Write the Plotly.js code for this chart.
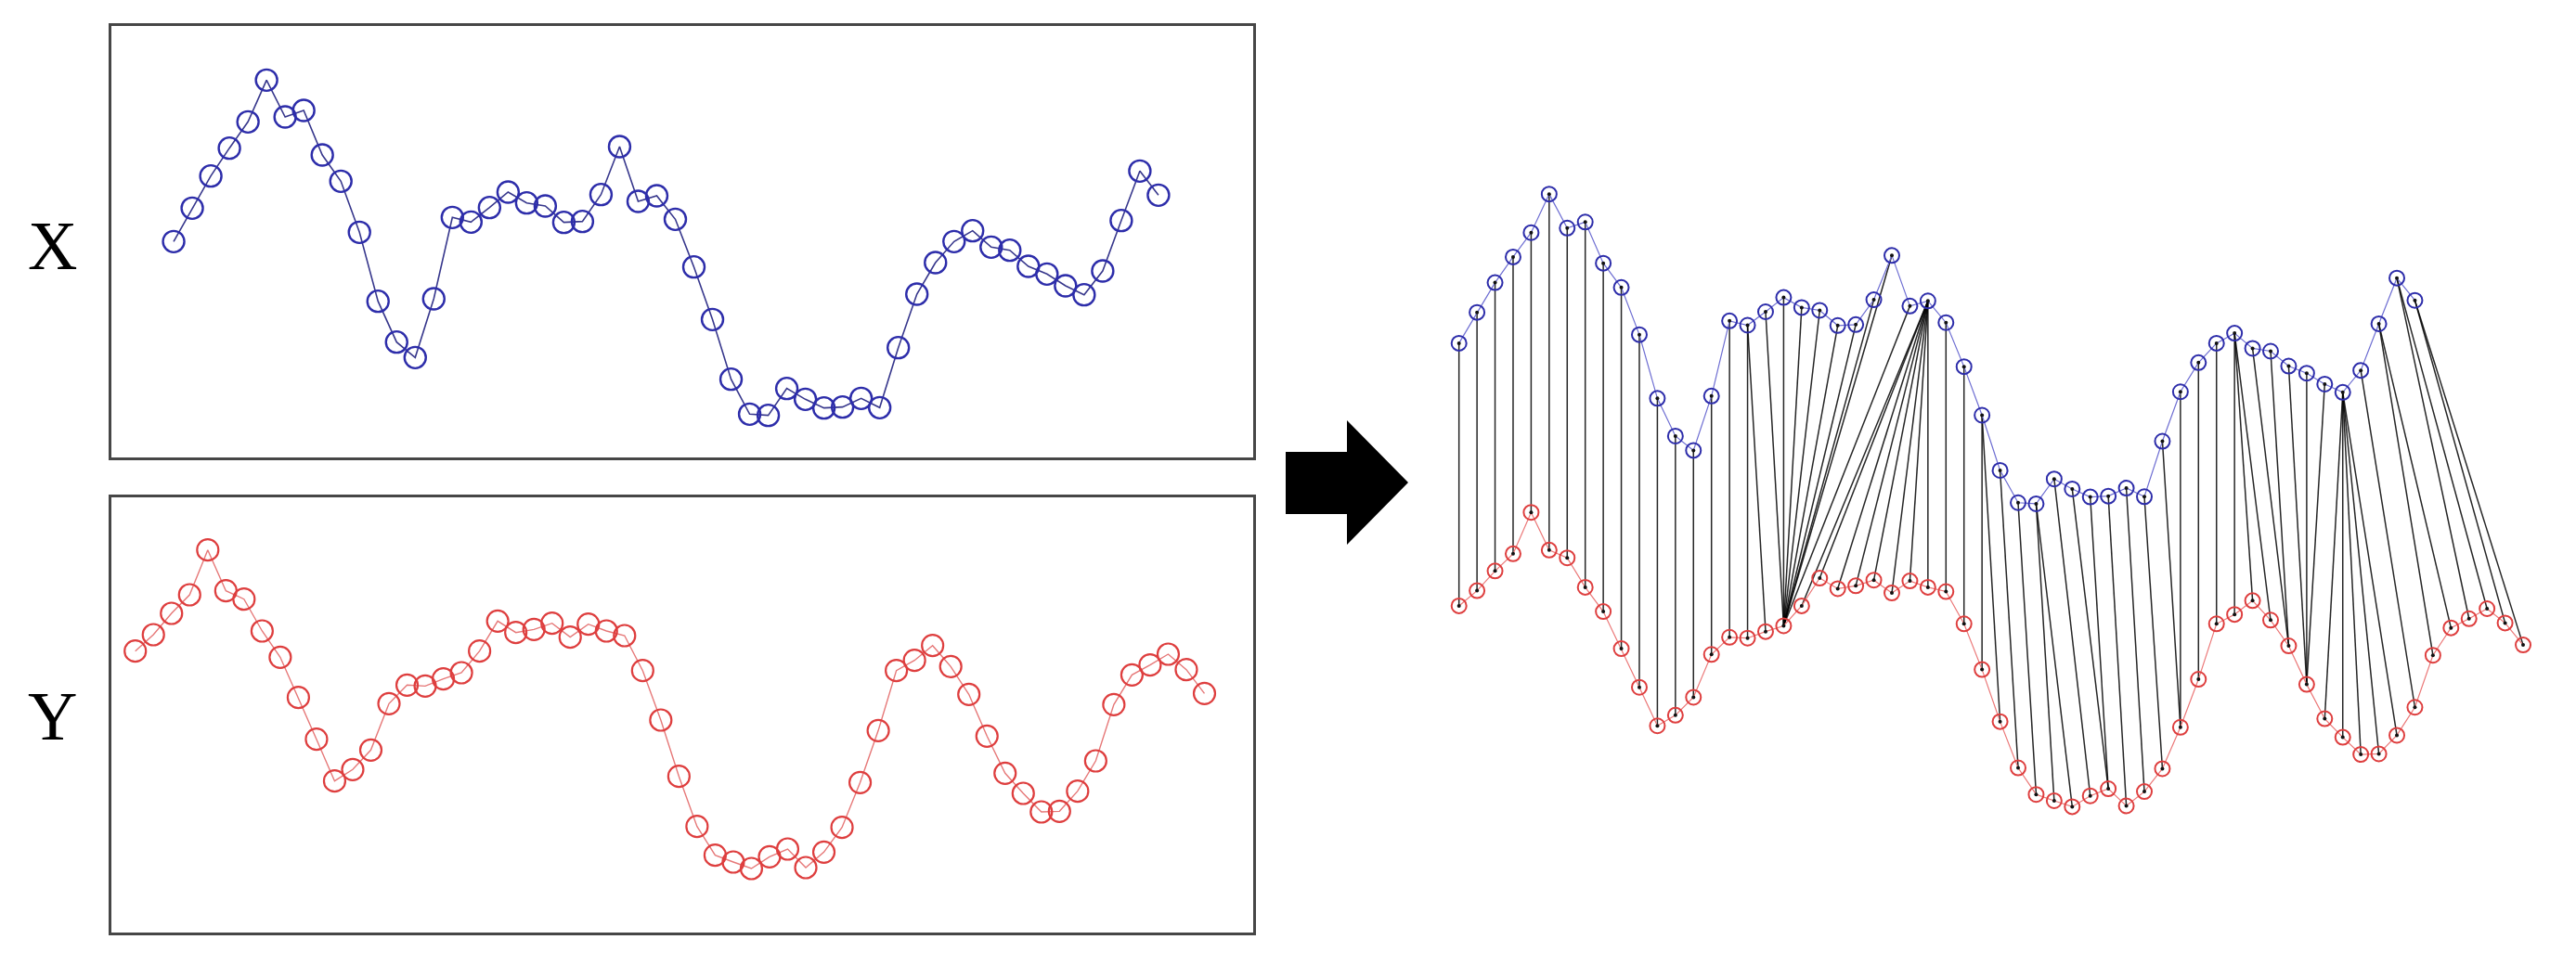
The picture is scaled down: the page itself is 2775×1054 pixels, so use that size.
<!DOCTYPE html>
<html>
<head>
<meta charset="utf-8">
<script src="https://cdn.plot.ly/plotly-3.0.1.min.js"></script>
<style>
html,body{margin:0;padding:0;background:#ffffff;}
#chart{width:2775px;height:1054px;}
</style>
</head>
<body>
<div id="chart"></div>
<script>
// ---- Data ----
const seriesX = [7.10, 8.18, 9.22, 10.12, 10.97, 12.32, 11.13, 11.34, 9.90, 9.05,
                 7.40, 5.17, 3.85, 3.35, 5.25, 7.88, 7.73, 8.20, 8.70, 8.35,
                 8.25, 7.72, 7.75, 8.62, 10.17, 8.40, 8.58, 7.82, 6.28, 4.58,
                 2.65, 1.52, 1.48, 2.35, 2.00, 1.72, 1.75, 2.03, 1.73, 3.67,
                 5.40, 6.42, 7.10, 7.45, 6.92, 6.82, 6.30, 6.05, 5.67, 5.38,
                 6.15, 7.78, 9.38, 8.60];

const seriesY = [9.25, 9.78, 10.47, 11.07, 12.52, 11.20, 10.93, 9.90, 9.05, 7.75,
                 6.40, 5.05, 5.42, 6.05, 7.55, 8.15, 8.12, 8.35, 8.55, 9.25,
                 10.22, 9.85, 9.95, 10.15, 9.70, 10.12, 9.90, 9.75, 8.62, 7.02,
                 5.20, 3.58, 2.65, 2.43, 2.22, 2.60, 2.85, 2.25, 2.75, 3.55,
                 5.00, 6.68, 8.62, 8.95, 9.43, 8.75, 7.85, 6.50, 5.30, 4.65,
                 4.05, 4.07, 4.72, 5.70, 7.52, 8.48, 8.80, 9.15, 8.65, 7.88];

// Warping path: pairs (index in X, index in Y), 1-based
const pathX = [1,2,3,4,5,6,7,8,9,10,11,12,13,14,15,16,17,17,18,
               19,20,21,22,23,24,25,26,
               27,27,27,27,27,27,27,27,
               28,29,30,30,31,32,33,33,34,35,36,37,38,39,40,41,42,43,
               44,44,44,45,46,47,48,49,50,50,50,50,50,51,52,52,53,53,54,54];
const pathY = [1,2,3,4,5,6,7,8,9,10,11,12,13,14,15,16,17,18,19,
               19,19,19,19,19,19,19,19,
               20,21,22,23,24,25,26,27,
               28,29,30,31,32,33,34,35,36,37,37,38,39,40,41,41,42,43,
               44,45,46,47,47,48,48,48,49,50,51,52,53,54,55,56,57,58,59,60];

const rowLabels = ['X', 'Y'];

// ---- Build ----
const idxX = seriesX.map((_, i) => i + 1);
const idxY = seriesY.map((_, i) => i + 1);
const OFFSET = 11.34;               // vertical separation of X above Y in the right panel
const liftedX = seriesX.map(v => v + OFFSET);

const linkX = [], linkY = [];
for (let k = 0; k < pathX.length; k++) {
  const i = pathX[k], j = pathY[k];
  linkX.push(i, j, null);
  linkY.push(liftedX[i - 1], seriesY[j - 1], null);
}

const BLUE = 'rgb(45,45,170)';
const RED = 'rgb(222,62,62)';

const traces = [
  { // top-left X
    x: idxX, y: seriesX, xaxis: 'x', yaxis: 'y', type: 'scatter', mode: 'lines+markers',
    line: {color: 'rgb(55,55,140)', width: 1.6},
    marker: {symbol: 'circle-open', size: 23, color: BLUE, line: {width: 2.4, color: BLUE}},
    cliponaxis: false
  },
  { // bottom-left Y
    x: idxY, y: seriesY, xaxis: 'x2', yaxis: 'y2', type: 'scatter', mode: 'lines+markers',
    line: {color: 'rgb(230,120,120)', width: 1.4},
    marker: {symbol: 'circle-open', size: 23, color: RED, line: {width: 2.2, color: RED}},
    cliponaxis: false
  },
  { // warping links
    x: linkX, y: linkY, xaxis: 'x3', yaxis: 'y3', type: 'scatter', mode: 'lines',
    line: {color: 'rgba(0,0,0,0.85)', width: 1.5}, connectgaps: false
  },
  { // right X
    x: idxX, y: liftedX, xaxis: 'x3', yaxis: 'y3', type: 'scatter', mode: 'lines+markers',
    line: {color: 'rgb(110,110,210)', width: 1.2},
    marker: {symbol: 'circle-open', size: 16, color: BLUE, line: {width: 2, color: BLUE}}
  },
  { // right Y
    x: idxY, y: seriesY, xaxis: 'x3', yaxis: 'y3', type: 'scatter', mode: 'lines+markers',
    line: {color: 'rgb(235,120,120)', width: 1.2},
    marker: {symbol: 'circle-open', size: 16, color: RED, line: {width: 2, color: RED}}
  },
  { // centre dots X
    x: idxX, y: liftedX, xaxis: 'x3', yaxis: 'y3', type: 'scatter', mode: 'markers',
    marker: {symbol: 'circle', size: 4, color: '#111'}
  },
  { // centre dots Y
    x: idxY, y: seriesY, xaxis: 'x3', yaxis: 'y3', type: 'scatter', mode: 'markers',
    marker: {symbol: 'circle', size: 4, color: '#111'}
  }
];

const boxAxis = {showgrid: false, zeroline: false, showticklabels: false, ticks: '',
                 showline: true, mirror: true, linecolor: 'rgb(70,70,70)', linewidth: 3};
const bareAxis = {showgrid: false, zeroline: false, showticklabels: false, ticks: '', showline: false};

const W = 2775, H = 1054;
const layout = {
  width: W, height: H,
  margin: {l: 0, r: 0, t: 0, b: 0},
  paper_bgcolor: '#ffffff', plot_bgcolor: 'rgba(0,0,0,0)',
  showlegend: false, hovermode: false,
  xaxis:  Object.assign({}, boxAxis, {domain: [120 / W, 1350 / W], range: [-2.35, 59.1], anchor: 'y'}),
  yaxis:  Object.assign({}, boxAxis, {domain: [1 - 493 / H, 1 - 28 / H], range: [0.12, 14.07], anchor: 'x'}),
  xaxis2: Object.assign({}, boxAxis, {domain: [120 / W, 1350 / W], range: [-0.317, 62.69], anchor: 'y2'}),
  yaxis2: Object.assign({}, boxAxis, {domain: [1 - 1005 / H, 1 - 536 / H], range: [0.15, 14.22], anchor: 'x2'}),
  xaxis3: Object.assign({}, bareAxis, {domain: [1540 / W, 2760 / W], range: [-0.631, 62.16], anchor: 'y3'}),
  yaxis3: Object.assign({}, bareAxis, {domain: [1 - 1000 / H, 1 - 150 / H], range: [-2.02, 25.58], anchor: 'x3'}),
  annotations: [
    {text: rowLabels[0], xref: 'paper', yref: 'paper', x: 57 / W, y: 1 - 265 / H,
     xanchor: 'center', yanchor: 'middle', showarrow: false,
     font: {family: 'Liberation Serif, Times New Roman, serif', size: 74, color: '#000'}},
    {text: rowLabels[1], xref: 'paper', yref: 'paper', x: 57 / W, y: 1 - 772 / H,
     xanchor: 'center', yanchor: 'middle', showarrow: false,
     font: {family: 'Liberation Serif, Times New Roman, serif', size: 74, color: '#000'}}
  ],
  shapes: [
    {type: 'path', xref: 'paper', yref: 'paper',
     path: 'M' + (1385 / W) + ',' + (1 - 487 / H) +
           ' L' + (1451 / W) + ',' + (1 - 487 / H) +
           ' L' + (1451 / W) + ',' + (1 - 453 / H) +
           ' L' + (1517 / W) + ',' + (1 - 520 / H) +
           ' L' + (1451 / W) + ',' + (1 - 587 / H) +
           ' L' + (1451 / W) + ',' + (1 - 554 / H) +
           ' L' + (1385 / W) + ',' + (1 - 554 / H) + ' Z',
     fillcolor: '#000', line: {width: 0}}
  ]
};

Plotly.newPlot('chart', traces, layout, {staticPlot: true, displayModeBar: false});
</script>
</body>
</html>
